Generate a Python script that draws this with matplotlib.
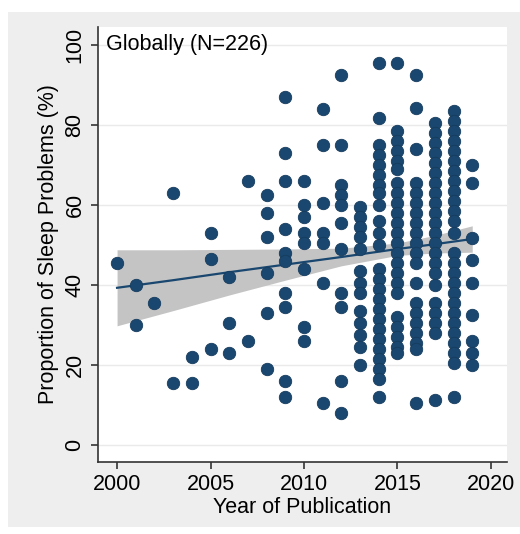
import numpy as np
import matplotlib.pyplot as plt
from matplotlib.patches import Rectangle

plt.rcParams['font.family'] = ['Liberation Sans', 'DejaVu Sans']

# Proportion of sleep problems (%) per study, grouped by year of publication
values_by_year = {
    2000: [45.5],
    2001: [40, 30],
    2002: [35.5],
    2003: [63, 15.5],
    2004: [22, 15.5],
    2005: [53, 46.5, 24],
    2006: [42, 30.5, 23],
    2007: [66, 26],
    2008: [62.5, 58, 52, 43, 33, 19],
    2009: [87, 73, 66, 54, 48, 46, 38, 34.5, 16, 12],
    2010: [66, 60, 57, 53, 50.5, 44, 29.5, 26],
    2011: [84, 75, 60.5, 53, 50.5, 40.5, 10.5],
    2012: [92.5, 75, 65, 62.5, 60, 55.5, 49, 38, 34.5, 16, 8],
    2013: [59.5, 57, 54.5, 52, 49, 43.5, 40.5, 38, 33.5, 30.5, 27.5, 24.5, 20],
    2014: [95.4, 81.7, 75, 72.5, 70, 67.5, 65, 63, 60, 56, 53, 50,
           44, 41.5, 39, 36.5, 34, 31.5, 29, 26.5, 24, 21.5, 19, 16.5, 12],
    2015: [95.4, 78.5, 76, 73.5, 71, 69, 65.5, 63, 60.5, 58, 55.5, 53, 50.5,
           48, 45.5, 43, 40.5, 38, 32, 29.5, 27, 24.5, 23],
    2016: [92.5, 84.2, 74, 65.5, 63, 60.5, 58, 55.5, 53, 50.5, 48, 45.5,
           40.4, 35.5, 33, 30.5, 28, 25.5, 24, 10.4],
    2017: [80.5, 78, 75.5, 73, 70.5, 68, 65.5, 63, 60.5, 58, 55.5, 53, 50.5,
           48, 45.5, 43, 40, 35.5, 33, 30.5, 28, 11.25],
    2018: [83.5, 81, 78.5, 76, 73.5, 71, 68.5, 66, 63.5, 61, 58.5, 56, 53,
           48, 45.5, 43, 40.5, 38, 35.5, 33, 30.5, 28, 25.5, 23, 20.5, 12],
    2019: [70, 65.4, 51.7, 46.25, 40.4, 32.5, 26, 23, 20],
}

# Linear fit with 95% CI
fit_years = [2000, 2003, 2006, 2009, 2012, 2015, 2017, 2019]
fit_line = [39.3, 41.2, 43.2, 45.1, 47.0, 49.0, 50.2, 51.5]
ci_lower = [29.8, 33.6, 37.5, 41.2, 44.8, 47.4, 48.0, 48.2]
ci_upper = [48.8, 48.8, 48.9, 49.0, 49.2, 50.5, 52.4, 54.8]

x_ticks = [2000, 2005, 2010, 2015, 2020]
y_ticks = [0, 20, 40, 60, 80, 100]

years = [yr for yr, vals in values_by_year.items() for _ in vals]
props = [v for vals in values_by_year.values() for v in vals]

navy = '#1a476f'

fig = plt.figure(figsize=(5.2, 5.34), dpi=100, facecolor='white')
fig.patches.append(Rectangle((8 / 520, 7 / 534), 1, 1 - 19 / 534,
                             transform=fig.transFigure, facecolor='#eeeeee',
                             edgecolor='none', zorder=-10))
ax = fig.add_axes([98 / 520, 1 - 462 / 534, 409 / 520, 435 / 534])
ax.set_facecolor('white')

ax.fill_between(fit_years, ci_lower, ci_upper, color='#c4c4c4', lw=0, zorder=2)
ax.plot(fit_years, fit_line, color=navy, lw=1.6, zorder=3)
ax.scatter(years, props, s=80, color=navy, edgecolors='#163c5e',
           linewidths=0.6, zorder=4)

ax.set_xlim(1998.98, 2020.86)
ax.set_ylim(-4.25, 104.5)
ax.set_xticks(x_ticks)
ax.set_yticks(y_ticks)
ax.set_yticklabels([str(t) for t in y_ticks], rotation=90, va='center')
ax.tick_params(axis='both', labelsize=15.5, length=5, width=1.2,
               color='#333333', pad=4)
ax.grid(axis='y', color='#eaeaea', lw=1)
ax.set_axisbelow(True)

for side in ['top', 'right']:
    ax.spines[side].set_visible(False)
for side in ['left', 'bottom']:
    ax.spines[side].set_color('#333333')
    ax.spines[side].set_linewidth(1.2)

ax.set_xlabel('Year of Publication', fontsize=15.5, labelpad=1)
ax.set_ylabel('Proportion of Sleep Problems (%)', fontsize=15.5, labelpad=4)
ax.text(0.02, 0.985, 'Globally (N=226)', transform=ax.transAxes,
        fontsize=15.5, ha='left', va='top')

fig.savefig('out.png', dpi=100, facecolor=fig.get_facecolor())
